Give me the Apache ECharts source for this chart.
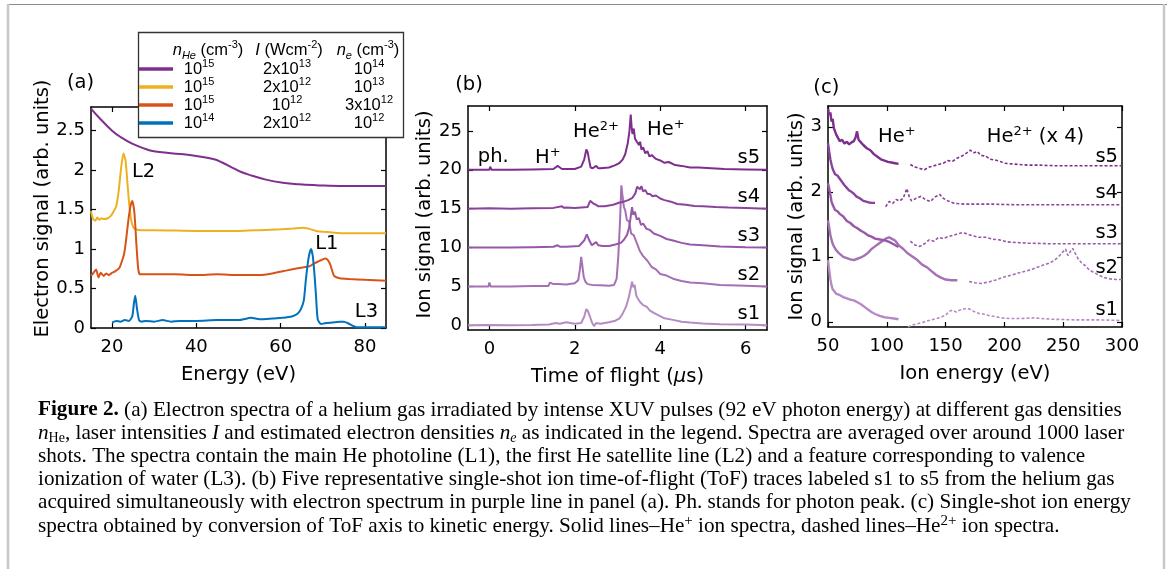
<!DOCTYPE html>
<html>
<head>
<meta charset="utf-8">
<script src="https://cdn.jsdelivr.net/npm/echarts@6/dist/echarts.min.js"></script>
<style>
  html, body { margin: 0; padding: 0; background: #fff; }
  #chart { width: 1167px; height: 569px; }
</style>
</head>
<body>
<div id="chart"></div>
<script>
// ---------- panel (a): electron spectra ----------
var aPurpleE = [15, 17, 20, 22, 25, 29, 33, 37, 40, 44, 46, 48.6, 50.5, 52.6, 56.5, 60.5, 64.4, 68.4, 75, 85];
var aPurpleY = [2.78, 2.66, 2.5, 2.42, 2.33, 2.25, 2.22, 2.2, 2.18, 2.14, 2.1, 2.03, 1.98, 1.94, 1.88, 1.84, 1.82, 1.81, 1.8, 1.8];
var aYellowE = [15, 15.5, 16, 16.5, 17, 17.5, 18, 19, 19.7, 20.3, 21, 21.6, 22.2, 22.7, 23.2, 23.7, 24.1, 24.5, 25, 25.7, 27, 30, 40, 50, 55, 60, 63, 65.2, 66.5, 68.4, 70, 72.3, 75, 80, 85];
var aYellowY = [1.48, 1.38, 1.36, 1.4, 1.37, 1.39, 1.38, 1.39, 1.42, 1.47, 1.55, 1.75, 2.05, 2.21, 2.12, 1.8, 1.55, 1.38, 1.28, 1.25, 1.24, 1.24, 1.23, 1.23, 1.24, 1.25, 1.26, 1.27, 1.26, 1.23, 1.22, 1.21, 1.2, 1.2, 1.2];
var aRedE = [15, 15.6, 16.2, 16.8, 17.3, 18, 18.6, 19.2, 20, 20.8, 21.7, 22.3, 22.9, 23.4, 23.9, 24.4, 24.8, 25.3, 25.8, 26.2, 26.6, 27.5, 30, 35, 40, 45, 50, 55, 58, 60.5, 62.5, 64.4, 65.5, 66.8, 68, 69.2, 70, 70.6, 71.2, 71.8, 72.7, 74, 76.3, 80, 85];
var aRedY = [0.66, 0.7, 0.74, 0.64, 0.7, 0.66, 0.69, 0.67, 0.7, 0.72, 0.76, 0.84, 0.95, 1.15, 1.38, 1.55, 1.61, 1.46, 1.04, 0.75, 0.68, 0.68, 0.68, 0.68, 0.67, 0.68, 0.67, 0.67, 0.69, 0.72, 0.74, 0.76, 0.77, 0.78, 0.82, 0.85, 0.87, 0.88, 0.86, 0.8, 0.66, 0.63, 0.62, 0.61, 0.6];
var aBlueE = [20, 21, 22, 23, 24, 24.8, 25.2, 25.5, 25.9, 26.4, 27, 28, 30, 32, 34, 36, 40, 45, 50, 53, 55, 58, 60.5, 62.8, 64, 64.8, 65.5, 66, 66.6, 67.2, 67.6, 68, 68.4, 68.8, 69.6, 70.5, 72.3, 74, 75, 76, 77, 78, 80, 85];
var aBlueY = [0.07, 0.09, 0.08, 0.1, 0.09, 0.15, 0.32, 0.41, 0.25, 0.1, 0.08, 0.09, 0.08, 0.1, 0.08, 0.09, 0.09, 0.1, 0.1, 0.13, 0.11, 0.12, 0.13, 0.15, 0.18, 0.24, 0.35, 0.62, 0.88, 1.0, 0.92, 0.7, 0.4, 0.11, 0.05, 0.06, 0.07, 0.08, 0.08, 0.06, 0.03, 0.01, 0.01, 0.01];

// legend table of panel (a)
var legendColors = ['#7E2F8E', '#EDB120', '#D95319', '#0072BD'];
var legendHeader = ['{i|n}{sub|He} (cm{sup|-3})', '{i|I} (Wcm{sup|-2})', '{i|n}{sub|e} (cm{sup|-3})'];
var legendNHe = ['10{sup|15}', '10{sup|15}', '10{sup|15}', '10{sup|14}'];
var legendI = ['2x10{sup|13}', '2x10{sup|12}', '10{sup|12}', '2x10{sup|12}'];
var legendNe = ['10{sup|14}', '10{sup|13}', '3x10{sup|12}', '10{sup|12}'];

// ---------- panel (b): ion time of flight ----------
var bS5T = [-0.5, 0, 0.02, 0.05, 0.5, 1.0, 1.5, 1.6, 1.65, 1.7, 1.8, 2.0, 2.15, 2.22, 2.27, 2.3, 2.33, 2.37, 2.42, 2.5, 2.55, 2.6, 2.8, 2.95, 3.05, 3.12, 3.18, 3.24, 3.28, 3.31, 3.33, 3.35, 3.38, 3.41, 3.45, 3.5, 3.53, 3.56, 3.6, 3.65, 3.7, 3.75, 3.8, 3.9, 4.0, 4.1, 4.2, 4.35, 4.5, 4.7, 4.9, 5.2, 5.5, 6.0, 6.5];
var bS5Y = [20, 20, 20.4, 20, 20, 20.05, 20.1, 20.5, 20.3, 20.1, 20.1, 20.1, 20.4, 21.3, 22.6, 22.3, 21.4, 20.3, 20.2, 20.5, 20.2, 20.2, 20.3, 20.6, 20.9, 21.3, 22.0, 23.4, 25.0, 27.1, 25.5, 24.6, 25.3, 24.0, 23.8, 23.2, 23.6, 22.6, 22.9, 22.1, 22.4, 21.7, 21.9, 21.4, 21.2, 20.9, 21.0, 20.6, 20.5, 20.3, 20.3, 20.2, 20.1, 20.05, 20];
var bS4T = [-0.5, 0, 0.5, 1.0, 1.5, 1.7, 1.75, 1.8, 2.0, 2.3, 2.36, 2.4, 2.45, 2.5, 2.55, 2.7, 2.9, 3.05, 3.15, 3.25, 3.35, 3.42, 3.46, 3.5, 3.53, 3.56, 3.6, 3.65, 3.7, 3.76, 3.82, 3.9, 4.0, 4.1, 4.25, 4.4, 4.6, 4.8, 5.0, 5.3, 5.6, 6.0, 6.5];
var bS4Y = [15, 15.05, 15, 15.05, 15.1, 15.3, 15.1, 15.15, 15.1, 15.2, 16.0, 16.2, 15.6, 15.5, 15.3, 15.3, 15.5, 15.8, 15.9, 16.1, 16.4, 17.0, 17.8, 18.0, 17.5, 17.9, 17.2, 17.4, 16.9, 16.9, 16.6, 16.7, 16.3, 16.1, 15.9, 15.6, 15.5, 15.35, 15.3, 15.2, 15.15, 15.1, 15];
var bS3T = [-0.5, 0, 0.5, 1.0, 1.5, 1.6, 1.65, 1.8, 2.1, 2.22, 2.28, 2.31, 2.35, 2.4, 2.45, 2.5, 2.55, 2.65, 2.8, 2.95, 3.08, 3.15, 3.22, 3.27, 3.3, 3.34, 3.37, 3.41, 3.45, 3.5, 3.55, 3.6, 3.68, 3.75, 3.85, 4.0, 4.15, 4.3, 4.5, 4.7, 5.0, 5.4, 6.0, 6.5];
var bS3Y = [10, 10, 10, 10.05, 10.1, 10.3, 10.1, 10.1, 10.2, 10.9, 11.7, 11.5, 10.8, 10.3, 10.5, 10.7, 10.3, 10.2, 10.2, 10.4, 10.6, 11.0, 11.6, 12.5, 13.6, 15.2, 14.2, 14.6, 13.6, 13.8, 12.9, 13.1, 12.4, 12.3, 11.8, 11.5, 11.1, 10.9, 10.6, 10.4, 10.3, 10.15, 10.05, 10];
var bS2T = [-0.5, -0.02, 0, 0.03, 0.5, 1.0, 1.38, 1.42, 1.5, 1.6, 1.8, 2.0, 2.08, 2.12, 2.15, 2.18, 2.21, 2.25, 2.3, 2.4, 2.6, 2.8, 2.92, 2.98, 3.02, 3.06, 3.09, 3.12, 3.15, 3.18, 3.22, 3.27, 3.32, 3.38, 3.45, 3.52, 3.6, 3.7, 3.8, 3.9, 4.0, 4.15, 4.3, 4.5, 4.7, 5.0, 5.4, 6.0, 6.5];
var bS2Y = [5, 5, 5.5, 5, 5, 5.05, 5.05, 5.5, 5.3, 5.3, 5.25, 5.4, 5.8, 7.2, 8.8, 7.5, 6.2, 5.6, 5.3, 5.2, 5.15, 5.1, 5.2, 6.0, 9.0, 13.5, 18.0, 16.5, 15.2, 14.8, 13.5, 13.4, 11.8, 11.6, 10.6, 9.6, 8.9, 8.3, 7.5, 7.2, 6.6, 6.4, 6.0, 5.7, 5.5, 5.4, 5.2, 5.1, 5];
var bS1T = [-0.5, 0, 0.5, 1.0, 1.4, 1.55, 1.65, 1.8, 2.0, 2.15, 2.22, 2.27, 2.31, 2.35, 2.4, 2.45, 2.5, 2.6, 2.8, 2.95, 3.05, 3.12, 3.2, 3.26, 3.3, 3.34, 3.37, 3.4, 3.44, 3.48, 3.53, 3.6, 3.68, 3.76, 3.85, 3.95, 4.1, 4.3, 4.5, 4.7, 5.0, 5.4, 6.0, 6.5];
var bS1Y = [0, 0.05, 0, 0.05, 0.1, 0.3, 0.2, 0.4, 0.2, 0.3, 1.1, 2.1, 1.8, 1.2, 0.4, -0.1, 0.3, 0.2, 0.4, 0.6, 0.9, 1.5, 2.4, 3.5, 4.5, 5.6, 4.9, 5.2, 3.8, 3.4, 3.0, 2.6, 2.4, 1.9, 1.6, 1.3, 0.9, 0.7, 0.45, 0.35, 0.25, 0.15, 0.1, 0];

// ---------- panel (c): ion energy spectra (solid He+, dashed He2+ x4) ----------
var cS5SolidE = [50, 51, 52, 53, 54, 55, 56, 57, 58, 60, 62, 64, 66, 68, 70, 72, 73.5, 74.7, 76, 78, 80, 83, 86, 89, 92, 95, 98, 101, 104, 107, 110];
var cS5SolidY = [3.28, 3.18, 3.22, 3.08, 3.12, 2.98, 3.0, 2.88, 2.9, 2.78, 2.8, 2.74, 2.77, 2.73, 2.76, 2.78, 2.84, 2.93, 2.8, 2.76, 2.72, 2.67, 2.64, 2.58, 2.54, 2.5, 2.48, 2.46, 2.45, 2.44, 2.43];
var cS5DashE = [120, 124, 128, 132, 136, 140, 144, 148, 152, 156, 160, 164, 168, 171, 174, 177, 180, 184, 188, 192, 196, 200, 206, 212, 220, 230, 245, 260, 280, 300];
var cS5DashY = [2.42, 2.38, 2.36, 2.34, 2.38, 2.4, 2.42, 2.44, 2.48, 2.47, 2.52, 2.55, 2.6, 2.64, 2.6, 2.62, 2.56, 2.55, 2.5, 2.49, 2.47, 2.44, 2.43, 2.42, 2.41, 2.41, 2.4, 2.4, 2.4, 2.4];
var cS4SolidE = [50, 51, 52, 53, 54, 55, 56, 58, 60, 62, 64, 66, 68, 70, 72, 74, 77, 80, 84, 87, 90];
var cS4SolidY = [2.75, 2.62, 2.5, 2.42, 2.35, 2.32, 2.27, 2.25, 2.2, 2.15, 2.1, 2.06, 2.02, 2.0, 1.97, 1.93, 1.9, 1.86, 1.84, 1.83, 1.83];
var cS4DashE = [99, 102, 105, 108, 111, 114, 117, 119, 121, 125, 129, 133, 137, 141, 145, 148, 152, 156, 160, 166, 175, 190, 210, 240, 270, 300];
var cS4DashY = [1.77, 1.85, 1.82, 1.88, 1.86, 1.9, 2.05, 1.93, 1.86, 1.9, 1.93, 1.88, 1.85, 1.92, 1.96, 1.9, 1.86, 1.83, 1.82, 1.81, 1.81, 1.81, 1.8, 1.8, 1.8, 1.8];
var cS3SolidE = [50, 51, 52, 53, 54, 55, 56, 58, 60, 63, 66, 69, 72, 75, 78, 81, 84, 87, 90, 93, 96, 99, 102, 105, 108, 110];
var cS3SolidY = [2.13, 2.05, 1.95, 1.85, 1.8, 1.76, 1.72, 1.7, 1.66, 1.62, 1.55, 1.52, 1.47, 1.44, 1.4, 1.37, 1.33, 1.31, 1.28, 1.27, 1.26, 1.25, 1.23, 1.2, 1.17, 1.15];
var cS3DashE = [120, 124, 128, 132, 136, 140, 144, 148, 152, 156, 160, 164, 167, 170, 174, 178, 184, 190, 196, 202, 210, 220, 240, 260, 280, 300];
var cS3DashY = [1.24, 1.18, 1.16, 1.2, 1.26, 1.24, 1.3, 1.28, 1.31, 1.33, 1.35, 1.37, 1.36, 1.34, 1.32, 1.3, 1.3, 1.27, 1.26, 1.23, 1.22, 1.21, 1.2, 1.2, 1.2, 1.2];
var cS2SolidE = [50, 51, 52, 53, 54, 55, 57, 59, 61, 63, 66, 69, 72, 75, 78, 81, 84, 87, 90, 93, 96, 99, 102, 104, 107, 110, 114, 118, 122, 126, 130, 134, 138, 142, 146, 150, 155, 160];
var cS2SolidY = [1.56, 1.45, 1.34, 1.26, 1.2, 1.16, 1.1, 1.06, 1.03, 1.0, 0.98, 0.96, 0.95, 0.97, 0.99, 1.02, 1.06, 1.12, 1.16, 1.2, 1.24, 1.28, 1.3, 1.28, 1.25, 1.18, 1.12, 1.05, 1.0, 0.95, 0.88, 0.84, 0.78, 0.72, 0.68, 0.65, 0.64, 0.64];
var cS2DashE = [170, 175, 180, 186, 192, 198, 204, 210, 216, 222, 228, 234, 238, 242, 246, 249, 252, 254, 256, 258, 260, 263, 266, 269, 272, 276, 280, 285, 290, 295, 300];
var cS2DashY = [0.62, 0.6, 0.59, 0.61, 0.64, 0.68, 0.71, 0.74, 0.77, 0.8, 0.84, 0.88, 0.9, 0.94, 1.0, 1.06, 1.12, 1.02, 1.08, 1.13, 1.06, 0.96, 0.9, 0.86, 0.8, 0.76, 0.72, 0.68, 0.66, 0.65, 0.65];
var cS1SolidE = [50, 51, 52, 53, 54, 55, 57, 59, 61, 63, 66, 69, 72, 75, 78, 81, 84, 87, 90, 94, 98, 102, 106, 110];
var cS1SolidY = [0.95, 0.8, 0.66, 0.56, 0.5, 0.47, 0.43, 0.42, 0.4, 0.38, 0.36, 0.34, 0.33, 0.3, 0.27, 0.23, 0.19, 0.15, 0.12, 0.09, 0.07, 0.06, 0.05, 0.04];
var cS1DashE = [118, 122, 126, 130, 134, 138, 142, 146, 150, 153, 156, 159, 162, 166, 170, 174, 178, 182, 186, 192, 198, 205, 215, 225, 240, 260, 280, 300];
var cS1DashY = [-0.08, -0.05, -0.03, -0.01, 0.01, 0.03, 0.05, 0.07, 0.1, 0.16, 0.18, 0.15, 0.18, 0.2, 0.2, 0.16, 0.13, 0.12, 0.1, 0.08, 0.06, 0.05, 0.05, 0.06, 0.04, 0.03, 0.03, 0.02];

// shot colours s1 .. s5 (light to dark purple)
var shotColors = ['#B68BC3', '#A670B4', '#9758A7', '#8A439B', '#7E2F8E'];

// tick positions
var aXTicks = [20, 40, 60, 80];
var aYTicks = [0, 0.5, 1, 1.5, 2, 2.5];
var bXTicks = [0, 2, 4, 6];
var bYTicks = [0, 5, 10, 15, 20, 25];
var cXTicks = [50, 100, 150, 200, 250, 300];
var cYTicks = [0, 1, 2, 3];

// text annotations [panel, text, x, y, align]
var notes = [
  [0, '(a)', 9.3, 3.1, 'left'],
  [0, 'L2', 24.7, 1.98, 'left'],
  [0, 'L1', 68.2, 1.07, 'left'],
  [0, 'L3', 77.6, 0.2, 'left'],
  [1, '(b)', -0.8, 30.9, 'left'],
  [1, 'ph.', -0.27, 21.6, 'left'],
  [1, 'H{sup|+}', 1.07, 21.5, 'left'],
  [1, 'He{sup|2+}', 1.96, 24.9, 'left'],
  [1, 'He{sup|+}', 3.69, 25.1, 'left'],
  [1, 's5', 6.34, 21.5, 'right'],
  [1, 's4', 6.34, 16.5, 'right'],
  [1, 's3', 6.34, 11.5, 'right'],
  [1, 's2', 6.34, 6.5, 'right'],
  [1, 's1', 6.34, 1.5, 'right'],
  [2, '(c)', 37.5, 3.6, 'left'],
  [2, 'He{sup|+}', 92.5, 2.84, 'left'],
  [2, 'He{sup|2+} (x 4)', 185, 2.84, 'left'],
  [2, 's5', 296.6, 2.54, 'right'],
  [2, 's4', 296.6, 1.98, 'right'],
  [2, 's3', 296.6, 1.37, 'right'],
  [2, 's2', 296.6, 0.83, 'right'],
  [2, 's1', 296.6, 0.18, 'right']
];

var captionLines = [
  '{b|Figure 2.} (a) Electron spectra of a helium gas irradiated by intense XUV pulses (92 eV photon energy) at different gas densities',
  '{i|n}{sub|He}, laser intensities {i|I} and estimated electron densities {i|n}{isub|e} as indicated in the legend. Spectra are averaged over around 1000 laser',
  'shots. The spectra contain the main He photoline (L1), the first He satellite line (L2) and a feature corresponding to valence',
  'ionization of water (L3). (b) Five representative single-shot ion time-of-flight (ToF) traces labeled s1 to s5 from the helium gas',
  'acquired simultaneously with electron spectrum in purple line in panel (a). Ph. stands for photon peak. (c) Single-shot ion energy',
  'spectra obtained by conversion of ToF axis to kinetic energy. Solid lines\u2013He{sup|+} ion spectra, dashed lines\u2013He{sup|2+} ion spectra.'
];

var SANS = 'DejaVu Sans';
var SERIF = 'Liberation Serif';
var NAME_FS = 19.5;
var TICK_FS = 18;
var NOTE_FS = 19.5;
var CAP_FS = 21.2;

function pairs(xs, ys) {
  return xs.map(function (x, i) { return [x, ys[i]]; });
}

function makeX(grid, min, max, ticks, pos, name) {
  return {
    type: 'value', gridIndex: grid, position: pos, min: min, max: max,
    name: pos === 'bottom' ? name : '', nameLocation: 'middle', nameGap: 37,
    nameTextStyle: { fontFamily: SANS, fontSize: NAME_FS, color: '#000', rich: { i: { fontFamily: SANS, fontSize: NAME_FS, fontStyle: 'italic' } } },
    axisLine: { onZero: false, lineStyle: { color: '#000', width: 1.5 } },
    axisTick: { inside: true, length: 5, customValues: ticks, lineStyle: { color: '#000', width: 1.2 } },
    axisLabel: { show: pos === 'bottom', customValues: ticks, fontFamily: SANS, fontSize: TICK_FS, color: '#000', margin: 10 },
    splitLine: { show: false }
  };
}
function makeY(grid, min, max, ticks, pos, name, gap, shift) {
  return {
    type: 'value', gridIndex: grid, position: pos, min: min, max: max,
    name: pos === 'left' ? name : '', nameLocation: 'middle', nameGap: gap,
    nameTextStyle: { fontFamily: SANS, fontSize: NAME_FS, color: '#000', padding: [0, 0, 0, shift || 0] },
    axisLine: { onZero: false, lineStyle: { color: '#000', width: 1.5 } },
    axisTick: { inside: true, length: 5, customValues: ticks, lineStyle: { color: '#000', width: 1.2 } },
    axisLabel: { show: pos === 'left', customValues: ticks, fontFamily: SANS, fontSize: TICK_FS, color: '#000', margin: 6 },
    splitLine: { show: false }
  };
}

function line(xi, yi, data, color, width, dashed, smooth) {
  return {
    type: 'line', xAxisIndex: xi, yAxisIndex: yi, data: data, showSymbol: false, symbol: 'none',
    smooth: smooth || false, clip: true,
    lineStyle: { color: color, width: width, type: dashed ? [3, 2] : 'solid' },
    emphasis: { disabled: true }, silent: true
  };
}

var chart = echarts.init(document.getElementById('chart'));

var series = [
  line(0, 0, pairs(aPurpleE, aPurpleY), legendColors[0], 2, false, 0.4),
  line(0, 0, pairs(aYellowE, aYellowY), legendColors[1], 2, false, 0.2),
  line(0, 0, pairs(aRedE, aRedY), legendColors[2], 2, false, 0.2),
  line(0, 0, pairs(aBlueE, aBlueY), legendColors[3], 2, false, 0.2)
];
var bT = [bS1T, bS2T, bS3T, bS4T, bS5T];
var bY = [bS1Y, bS2Y, bS3Y, bS4Y, bS5Y];
for (var k = 0; k < 5; k++) {
  series.push(line(2, 2, pairs(bT[k], bY[k]), shotColors[k], 2, false));
}
var cSolid = [[cS1SolidE, cS1SolidY], [cS2SolidE, cS2SolidY], [cS3SolidE, cS3SolidY], [cS4SolidE, cS4SolidY], [cS5SolidE, cS5SolidY]];
var cDash = [[cS1DashE, cS1DashY], [cS2DashE, cS2DashY], [cS3DashE, cS3DashY], [cS4DashE, cS4DashY], [cS5DashE, cS5DashY]];
for (var m = 0; m < 5; m++) {
  series.push(line(4, 4, pairs(cSolid[m][0], cSolid[m][1]), shotColors[m], 2.4, false));
  series.push(line(4, 4, pairs(cDash[m][0], cDash[m][1]), shotColors[m], 1.6, true));
}

chart.setOption({
  animation: false,
  backgroundColor: '#fff',
  grid: [
    { left: 91, top: 107, width: 295, height: 221, outerBoundsMode: 'none' },
    { left: 468, top: 106, width: 299, height: 224, outerBoundsMode: 'none' },
    { left: 828, top: 106, width: 294, height: 221, outerBoundsMode: 'none' }
  ],
  xAxis: [
    makeX(0, 15, 85, aXTicks, 'bottom', 'Energy (eV)'),
    makeX(0, 15, 85, aXTicks, 'top'),
    makeX(1, -0.5, 6.5, bXTicks, 'bottom', 'Time of flight ({i|\u03bc}s)'),
    makeX(1, -0.5, 6.5, bXTicks, 'top'),
    makeX(2, 50, 300, cXTicks, 'bottom', 'Ion energy (eV)'),
    makeX(2, 50, 300, cXTicks, 'top')
  ],
  yAxis: [
    makeY(0, 0, 2.8, aYTicks, 'left', 'Electron signal (arb. units)', 38, 18),
    makeY(0, 0, 2.8, aYTicks, 'right'),
    makeY(1, -0.6, 28.2, bYTicks, 'left', 'Ion signal (arb. units)', 27, 7),
    makeY(1, -0.6, 28.2, bYTicks, 'right'),
    makeY(2, -0.08, 3.32, cYTicks, 'left', 'Ion signal (arb. units)', 21),
    makeY(2, -0.08, 3.32, cYTicks, 'right')
  ],
  series: series
});

// ---------- graphic overlay: annotations, legend table, caption, frame ----------
var g = [];
var supStyle = { fontFamily: SANS, fontSize: 13, verticalAlign: 'top', lineHeight: 13 };
notes.forEach(function (n) {
  var p = chart.convertToPixel({ xAxisIndex: n[0] * 2, yAxisIndex: n[0] * 2 }, [n[2], n[3]]);
  g.push({
    type: 'text', x: p[0], y: p[1], silent: true,
    style: {
      text: n[1], fill: '#000', fontFamily: SANS, fontSize: NOTE_FS, align: n[4], verticalAlign: 'middle',
      lineHeight: 24, rich: { sup: supStyle }
    }
  });
});

// legend table
var LF = 'Liberation Sans';
var LEG_FS = 16.5;
var legRich = {
  sup: { fontFamily: LF, fontSize: 11, verticalAlign: 'top', lineHeight: 11 },
  sub: { fontFamily: LF, fontSize: 11, verticalAlign: 'bottom', lineHeight: 11, fontStyle: 'italic' },
  i: { fontFamily: LF, fontSize: LEG_FS, fontStyle: 'italic', lineHeight: 22 }
};
g.push({ type: 'rect', shape: { x: 138.5, y: 32.5, width: 265, height: 105 }, style: { fill: '#fff', stroke: '#333', lineWidth: 1.3 }, z: 50 });
var colX = [199, 287, 369];
var headX = [208, 289, 368];
legendHeader.forEach(function (t, j) {
  g.push({ type: 'text', x: headX[j], y: 50, z: 51,
    style: { text: t, fill: '#000', fontFamily: LF, fontSize: LEG_FS, align: 'center', verticalAlign: 'middle', lineHeight: 22, rich: legRich } });
});
var rowY = [69, 87, 105, 123];
legendColors.forEach(function (c, r) {
  g.push({ type: 'line', shape: { x1: 139, y1: rowY[r], x2: 173, y2: rowY[r] }, style: { stroke: c, lineWidth: 3.5 }, z: 51 });
  [legendNHe[r], legendI[r], legendNe[r]].forEach(function (t, j) {
    g.push({ type: 'text', x: colX[j], y: rowY[r], z: 51,
      style: { text: t, fill: '#000', fontFamily: LF, fontSize: LEG_FS, align: 'center', verticalAlign: 'middle', lineHeight: 22, rich: legRich } });
  });
});

// caption
var capRich = {
  b: { fontFamily: SERIF, fontSize: CAP_FS, fontWeight: 'bold', lineHeight: 24 },
  i: { fontFamily: SERIF, fontSize: CAP_FS, fontStyle: 'italic', lineHeight: 24 },
  sub: { fontFamily: SERIF, fontSize: 14, verticalAlign: 'bottom', lineHeight: 14 },
  isub: { fontFamily: SERIF, fontSize: 14, fontStyle: 'italic', verticalAlign: 'bottom', lineHeight: 14 },
  sup: { fontFamily: SERIF, fontSize: 15, verticalAlign: 'top', lineHeight: 15 }
};
captionLines.forEach(function (t, r) {
  g.push({ type: 'text', x: 38, y: 410 + r * 23.2, silent: true,
    style: { text: t, fill: '#000', fontFamily: SERIF, fontSize: CAP_FS, align: 'left', verticalAlign: 'middle', lineHeight: 24, rich: capRich } });
});

// page frame
g.push({ type: 'line', shape: { x1: 7, y1: 4.5, x2: 1167, y2: 4.5 }, style: { stroke: '#8a8a8a', lineWidth: 1 } });
g.push({ type: 'line', shape: { x1: 8, y1: 4, x2: 8, y2: 569 }, style: { stroke: '#c8c8c8', lineWidth: 2.5 } });
g.push({ type: 'line', shape: { x1: 1164, y1: 4, x2: 1164, y2: 569 }, style: { stroke: '#c8c8c8', lineWidth: 2.5 } });

chart.setOption({ graphic: g });
</script>
</body>
</html>
